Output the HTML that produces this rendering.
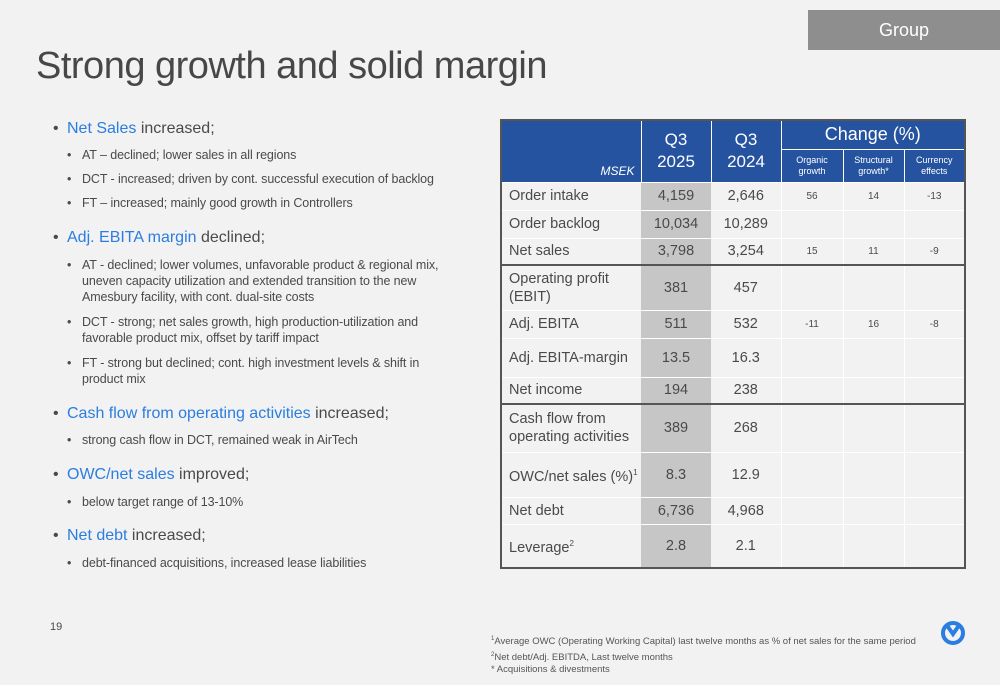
<!DOCTYPE html>
<html><head><meta charset="utf-8"><style>
body{margin:0;width:1000px;height:685px;background:#f2f2f2;font-family:"Liberation Sans",sans-serif;position:relative;overflow:hidden;color:#4a4a4a}
.a{position:absolute}
.grp{left:808px;top:10px;width:192px;height:40px;background:#8e8e8e;color:#fff;font-size:18px;line-height:40px;text-align:center}
.title{left:36px;top:45px;font-size:38px;color:#474747;letter-spacing:-0.5px}
.b1{position:absolute;left:67px;font-size:16px;color:#4a4a4a;line-height:18px;margin-top:-10px}
.b1 .hl{color:#2a7de1}
.b2{position:absolute;left:82px;font-size:12.5px;color:#4a4a4a;line-height:16px;margin-top:-9px;width:370px;letter-spacing:-0.1px}
.dot{position:absolute;left:-14px}
.b2 .dot{left:-15px}
table{position:absolute;left:500px;top:119px;width:464px;border-collapse:collapse;border:2px solid #555;font-size:14.5px;table-layout:fixed}
td{padding:0;border-bottom:1px solid #fff;text-align:center;color:#4a4a4a}
td.l{text-align:left;padding-left:7px;line-height:18px}
td.g{background:#c6c6c6}
th{background:#2553a0;color:#fff;font-weight:normal;border:1px solid #fff;padding:0}
tr.sep td{border-top:2px solid #555}
td.s{font-size:10px;border-left:1px solid #fff}
</style></head><body>
<div class="a grp">Group</div>
<div class="a title">Strong growth and solid margin</div>

<div>
<div class="b1" style="top:130px"><span class="dot">•</span><span class="hl">Net Sales</span> increased;</div>
<div class="b2" style="top:156px"><span class="dot">•</span>AT – declined; lower sales in all regions</div>
<div class="b2" style="top:180px"><span class="dot">•</span>DCT - increased; driven by cont. successful execution of backlog</div>
<div class="b2" style="top:204px"><span class="dot">•</span>FT – increased; mainly good growth in Controllers</div>
<div class="b1" style="top:239px"><span class="dot">•</span><span class="hl">Adj. EBITA margin</span> declined;</div>
<div class="b2" style="top:266px;width:375px"><span class="dot">•</span>AT - declined; lower volumes, unfavorable product &amp; regional mix, uneven capacity utilization and extended transition to the new Amesbury facility, with cont. dual-site costs</div>
<div class="b2" style="top:323px;width:360px"><span class="dot">•</span>DCT -  strong; net sales growth, high production-utilization and favorable product mix, offset by tariff impact</div>
<div class="b2" style="top:364px;width:355px"><span class="dot">•</span>FT - strong but declined; cont. high investment levels &amp; shift in product mix</div>
<div class="b1" style="top:415px"><span class="dot">•</span><span class="hl">Cash flow from operating activities</span> increased;</div>
<div class="b2" style="top:441px"><span class="dot">•</span>strong cash flow in DCT, remained weak in AirTech</div>
<div class="b1" style="top:476px"><span class="dot">•</span><span class="hl">OWC/net sales</span> improved;</div>
<div class="b2" style="top:503px"><span class="dot">•</span>below target range of 13-10%</div>
<div class="b1" style="top:537px"><span class="dot">•</span><span class="hl">Net debt</span> increased;</div>
<div class="b2" style="top:564px"><span class="dot">•</span>debt-financed acquisitions, increased lease liabilities</div>
</div>

<table>
<colgroup><col style="width:140px"><col style="width:70px"><col style="width:70px"><col style="width:62px"><col style="width:61px"><col style="width:61px"></colgroup>
<tr style="height:29px"><th rowspan="2" style="text-align:right;vertical-align:bottom;font-style:italic;font-size:12px;padding:0 6px 4px 0">MSEK</th>
<th rowspan="2" style="font-size:17px;line-height:22px">Q3<br>2025</th><th rowspan="2" style="font-size:17px;line-height:22px">Q3<br>2024</th>
<th colspan="3" style="font-size:18px">Change (%)</th></tr>
<tr style="height:33px"><th style="font-size:9px;line-height:11px">Organic<br>growth</th><th style="font-size:9px;line-height:11px">Structural<br>growth*</th><th style="font-size:9px;line-height:11px">Currency<br>effects</th></tr>
<tr style="height:28px"><td class="l">Order intake</td><td class="g">4,159</td><td>2,646</td><td class="s">56</td><td class="s">14</td><td class="s">-13</td></tr>
<tr style="height:28px"><td class="l">Order backlog</td><td class="g">10,034</td><td>10,289</td><td class="s"></td><td class="s"></td><td class="s"></td></tr>
<tr style="height:27px"><td class="l">Net sales</td><td class="g">3,798</td><td>3,254</td><td class="s">15</td><td class="s">11</td><td class="s">-9</td></tr>
<tr class="sep" style="height:45px"><td class="l">Operating profit<br>(EBIT)</td><td class="g">381</td><td>457</td><td class="s"></td><td class="s"></td><td class="s"></td></tr>
<tr style="height:28px"><td class="l">Adj. EBITA</td><td class="g">511</td><td>532</td><td class="s">-11</td><td class="s">16</td><td class="s">-8</td></tr>
<tr style="height:39px"><td class="l">Adj. EBITA-margin</td><td class="g">13.5</td><td>16.3</td><td class="s"></td><td class="s"></td><td class="s"></td></tr>
<tr style="height:27px"><td class="l">Net income</td><td class="g">194</td><td>238</td><td class="s"></td><td class="s"></td><td class="s"></td></tr>
<tr class="sep" style="height:48px"><td class="l">Cash flow from<br>operating activities</td><td class="g">389</td><td>268</td><td class="s"></td><td class="s"></td><td class="s"></td></tr>
<tr style="height:45px"><td class="l" style="white-space:nowrap">OWC/net sales (%)<sup style="font-size:8px">1</sup></td><td class="g">8.3</td><td>12.9</td><td class="s"></td><td class="s"></td><td class="s"></td></tr>
<tr style="height:27px"><td class="l">Net debt</td><td class="g">6,736</td><td>4,968</td><td class="s"></td><td class="s"></td><td class="s"></td></tr>
<tr style="height:44px"><td class="l">Leverage<sup style="font-size:8px">2</sup></td><td class="g">2.8</td><td>2.1</td><td class="s"></td><td class="s"></td><td class="s"></td></tr>
</table>

<div class="a" style="left:50px;top:621px;font-size:11px">19</div>
<div class="a" style="left:491px;top:633px;font-size:9.5px;line-height:12.5px;color:#555">
<sup style="font-size:6px">1</sup>Average OWC (Operating Working Capital) last twelve months as % of net sales for the same period<br>
<sup style="font-size:6px">2</sup>Net debt/Adj. EBITDA, Last twelve months<br>* Acquisitions &amp; divestments</div>
<svg class="a" style="left:941px;top:619px" width="24" height="27" viewBox="0 0 24 27">
<circle cx="12" cy="14" r="10" fill="none" stroke="#2a7de1" stroke-width="4"/>
<path d="M5 5 L12 15 L19 5" fill="none" stroke="#2a7de1" stroke-width="4"/>
</svg>
</body></html>
